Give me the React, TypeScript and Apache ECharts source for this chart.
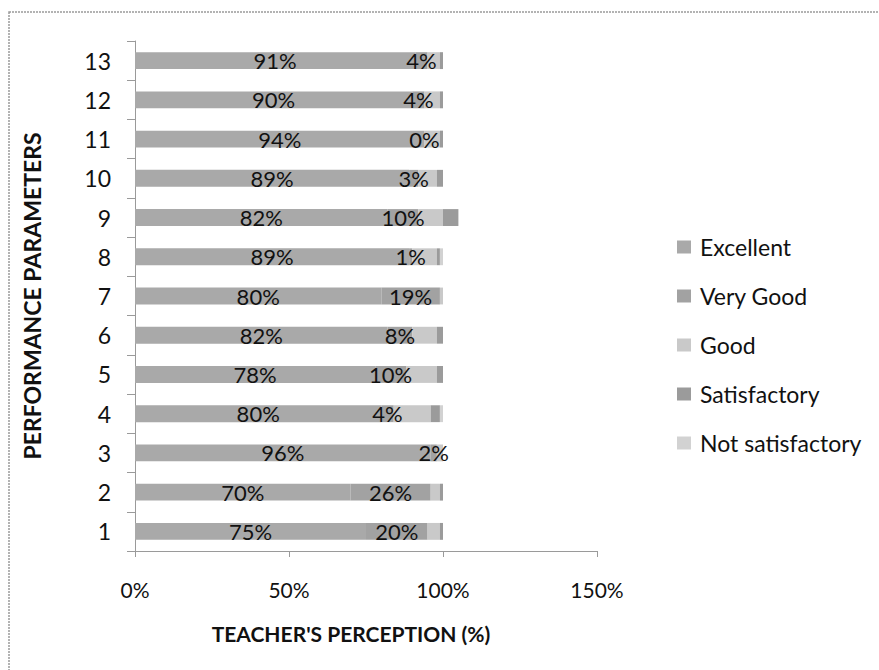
import React, { useEffect, useRef } from "react";
import * as echarts from "echarts";

const categories = ["1", "2", "3", "4", "5", "6", "7", "8", "9", "10", "11", "12", "13"];
const excellent = [75, 70, 96, 80, 78, 82, 80, 89, 82, 89, 94, 90, 91];
const veryGood = [20, 26, 2, 4, 10, 8, 19, 1, 10, 3, 0, 4, 4];
const good = [4, 3, 2, 12, 10, 8, 1, 8, 8, 6, 5, 5, 4];
const satisfactory = [1, 1, 0, 3, 2, 2, 0, 1, 5, 2, 1, 1, 1];
const notSatisfactory = [0, 0, 0, 1, 0, 0, 0, 1, 0, 0, 0, 0, 0];
const xTicks = [0, 50, 100, 150];

const FONT = "Lato, 'Open Sans', sans-serif";

export default function App() {
  const ref = useRef<HTMLDivElement>(null);
  useEffect(() => {
    document.body.style.margin = "0";
    const chart = echarts.init(ref.current!, null, { renderer: "svg" });
    const labelOn = {
      show: true,
      position: "inside",
      color: "#111",
      fontSize: 22,
      fontFamily: FONT,
      formatter: (p: any) => p.value + "%",
    };
    const mk = (name: string, data: number[], color: string, label: boolean) => ({
      name,
      type: "bar",
      stack: "total",
      data,
      barWidth: "43%",
      itemStyle: { color },
      label: label ? labelOn : { show: false },
      emphasis: { disabled: true },
    });
    chart.setOption({
      animation: false,
      backgroundColor: "#ffffff",
      textStyle: { fontFamily: FONT },
      graphic: [
        {
          type: "rect",
          shape: { x: 9, y: 12, width: 900, height: 700 },
          style: { fill: "none", stroke: "#9a9a9a", lineWidth: 1.5, lineDash: [2, 1] },
          silent: true,
          z: -1,
        },
      ],
      grid: { left: 135, right: 282, top: 41, bottom: 119, containLabel: false },
      legend: {
        orient: "vertical",
        left: 672,
        top: 230,
        itemWidth: 14,
        itemHeight: 13,
        itemGap: 25,
        icon: "rect",
        textStyle: { fontSize: 23, fontFamily: FONT, color: "#111", lineHeight: 24, padding: [0, 0, 0, 4] },
        data: ["Excellent", "Very Good", "Good", "Satisfactory", "Not satisfactory"],
      },
      xAxis: {
        type: "value",
        min: xTicks[0],
        max: xTicks[xTicks.length - 1],
        interval: 50,
        name: "TEACHER'S PERCEPTION (%)",
        nameLocation: "middle",
        nameGap: 72,
        nameTextStyle: { fontSize: 21, fontWeight: "bold", color: "#111", fontFamily: FONT, padding: [0, 30, 0, 0] },
        axisLine: { show: true, lineStyle: { color: "#9a9a9a", width: 1 } },
        axisTick: { show: true, length: 6, lineStyle: { color: "#9a9a9a" } },
        splitLine: { show: false },
        axisLabel: { fontSize: 21, color: "#111", margin: 28, formatter: (v: number) => v + "%" },
      },
      yAxis: {
        type: "category",
        data: categories,
        name: "PERFORMANCE PARAMETERS",
        nameLocation: "middle",
        nameGap: 92,
        nameTextStyle: { fontSize: 23, fontWeight: "bold", color: "#111", fontFamily: FONT },
        axisLine: { show: true, lineStyle: { color: "#9a9a9a", width: 1 } },
        axisTick: { show: true, length: 8, lineStyle: { color: "#9a9a9a" } },
        axisLabel: { fontSize: 23, color: "#111", margin: 24 },
      },
      series: [
        mk("Excellent", excellent, "#a9a9a9", true),
        mk("Very Good", veryGood, "#a2a2a2", true),
        mk("Good", good, "#c9c9c9", false),
        mk("Satisfactory", satisfactory, "#9b9b9b", false),
        mk("Not satisfactory", notSatisfactory, "#d2d2d2", false),
      ],
    });
    return () => chart.dispose();
  }, []);
  return <div ref={ref} style={{ position: "absolute", left: 0, top: 0, width: 879, height: 670 }} />;
}
